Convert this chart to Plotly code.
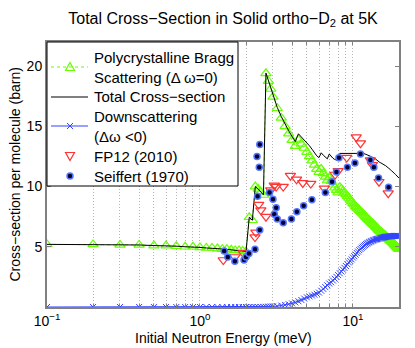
import plotly.graph_objects as go

# calculated cross-sections (meV, barn): 0.1 meV steps up to 2.9, then 0.2 meV steps
energy = [0.1, 0.2, 0.3, 0.4, 0.5, 0.6, 0.7, 0.8, 0.9, 1.0, 1.1, 1.2, 1.3, 1.4, 1.5,
          1.6, 1.7, 1.8, 1.9, 2.0, 2.1, 2.2, 2.3, 2.4, 2.5, 2.6, 2.7, 2.8, 2.9,
          3.0, 3.2, 3.4, 3.6, 3.8, 4.0, 4.2, 4.4, 4.6, 4.8, 5.0, 5.2, 5.4, 5.6, 5.8,
          6.0, 6.2, 6.4, 6.6, 6.8, 7.0, 7.2, 7.4, 7.6, 7.8, 8.0, 8.2, 8.4, 8.6, 8.8,
          9.0, 9.2, 9.4, 9.6, 9.8, 10.0, 10.2, 10.4, 10.6, 10.8, 11.0, 11.2, 11.4, 11.6, 11.8,
          12.0, 12.2, 12.4, 12.6, 12.8, 13.0, 13.2, 13.4, 13.6, 13.8, 14.0, 14.2, 14.4, 14.6, 14.8,
          15.0, 15.2, 15.4, 15.6, 15.8, 16.0, 16.2, 16.4, 16.6, 16.8, 17.0, 17.2, 17.4, 17.6, 17.8,
          18.0, 18.2, 18.4, 18.6, 18.8, 19.0, 19.2, 19.4, 19.6, 19.8, 20.0]

bragg = [5.2, 5.2, 5.15, 5.15, 5.1, 5.1, 5.05, 5.0, 5.0, 4.95, 4.9, 4.9, 4.85, 4.8, 4.8,
         4.75, 4.7, 4.7, 4.65, 4.6, 7.45, 7.2, 10.0, 9.8, 9.55, 9.3, 19.4, 18.75, 18.1,
         17.45, 16.5, 15.7, 15.0, 14.4, 13.85, 13.35, 13.9, 13.55, 13.2, 12.85, 12.5, 12.15, 11.8, 11.45,
         11.2, 11.45, 11.1, 10.8, 10.5, 10.75, 10.45, 10.15, 9.9, 9.7, 9.5, 9.95, 9.8, 9.65, 9.5,
         9.35, 9.2, 9.05, 8.9, 8.75, 8.6, 8.5, 8.35, 8.25, 8.15, 8.05, 7.95, 7.85, 7.75, 7.65,
         7.55, 7.45, 7.35, 7.25, 7.2, 7.1, 7.0, 6.95, 6.85, 6.8, 6.7, 6.6, 6.55, 6.45, 6.35,
         6.3, 6.25, 6.2, 6.1, 6.05, 6.0, 5.95, 5.9, 5.8, 5.75, 5.7, 5.65, 5.55, 5.5, 5.45,
         5.4, 5.35, 5.3, 5.2, 5.15, 5.1, 5.05, 4.95, 4.9, 4.85, 4.8]

downscatter = [0, 0, 0, 0, 0, 0, 0, 0, 0, 0, 0, 0, 0, 0, 0,
               0, 0, 0, 0, 0, 0, 0, 0, 0, 0, 0.01, 0.02, 0.03, 0.04,
               0.05, 0.07, 0.12, 0.17, 0.23, 0.3, 0.38, 0.48, 0.58, 0.7, 0.8, 0.88, 0.95, 1.02, 1.1,
               1.2, 1.35, 1.5, 1.65, 1.8, 1.95, 2.05, 2.2, 2.35, 2.5, 2.65, 2.8, 2.95, 3.1, 3.25,
               3.4, 3.55, 3.7, 3.82, 3.95, 4.1, 4.22, 4.35, 4.48, 4.6, 4.72, 4.82, 4.92, 5.0, 5.08,
               5.15, 5.22, 5.28, 5.33, 5.38, 5.42, 5.46, 5.5, 5.54, 5.57, 5.6, 5.62, 5.64, 5.66, 5.68,
               5.7, 5.72, 5.74, 5.76, 5.78, 5.8, 5.81, 5.82, 5.83, 5.84, 5.85, 5.86, 5.87, 5.87, 5.88,
               5.88, 5.89, 5.89, 5.9, 5.9, 5.9, 5.9, 5.9, 5.9, 5.9, 5.9]

# measurements
fp12_energy = [1.42, 1.69, 1.91, 2.29, 2.32, 2.42, 2.5, 2.7, 2.9, 3.06, 3.15, 3.5, 3.9, 4.28, 4.7,
               5.3, 6.5, 7.65, 8.0, 9.1, 10.5, 11.2, 13.0, 13.4, 14.8, 17.0]
fp12_sigma = [3.9, 4.15, 4.5, 5.8, 6.2, 8.5, 8.05, 7.5, 9.7, 10.1, 10.0, 10.0, 10.9, 10.6, 10.3,
              10.25, 9.85, 11.0, 11.3, 12.4, 14.1, 13.6, 12.2, 11.8, 10.4, 9.45]

seiffert_energy = [1.44, 1.52, 1.69, 1.94, 2.0, 2.09, 2.29, 2.36, 2.38, 2.44, 2.46, 2.46, 2.85, 3.0,
                   3.15, 3.06, 3.2, 3.5, 3.96, 4.3, 4.76, 5.39, 6.6, 7.3, 7.8, 8.1, 9.2, 10.3, 11.2,
                   13.0, 13.7, 14.7, 17.1]
seiffert_sigma = [4.65, 4.15, 3.8, 3.9, 4.15, 4.45, 4.8, 12.5, 9.2, 11.6, 13.5, 6.4, 9.5, 8.95,
                  8.25, 7.7, 7.3, 7.0, 7.3, 7.9, 8.4, 8.9, 9.5, 10.4, 11.2, 12.4, 11.6, 11.95, 12.7,
                  12.2, 11.6, 10.7, 9.95]

x_ticks = [0.1, 0.2, 0.3, 0.4, 0.5, 0.6, 0.7, 0.8, 0.9, 1, 2, 3, 4, 5, 6, 7, 8, 9, 10, 20]
x_labels = {0.1: '10<sup>\u22121</sup>', 1: '10<sup>0</sup>', 10: '10<sup>1</sup>'}

# legend text, one entry per line of the boxed legend
legend_lines = ['Polycrystalline Bragg', 'Scattering (\u0394 \u03c9=0)', 'Total Cross\u2212section',
                'Downscattering', '(\u0394\u03c9 <0)', 'FP12 (2010)', 'Seiffert (1970)']

FONT = 'Liberation Sans, Arial, sans-serif'
GREEN = '#66ff00'
BLUE = '#3344ff'
RED = '#ff3333'

# plot area in pixels (left, top, width, height)
L, T, W, H = 47, 42, 352, 265


def px(x):
    return (x - L) / W


def py(y):
    return (T + H - y) / H


def legend_shapes():
    shapes = [dict(type='rect', xref='paper', yref='paper', layer='above',
                   x0=px(47), x1=px(238), y0=py(186), y1=py(42),
                   fillcolor='white', line=dict(color='black', width=1))]

    def sample_line(y, color, dash='solid'):
        return dict(type='line', xref='paper', yref='paper', layer='above',
                    x0=px(51), x1=px(88), y0=py(y), y1=py(y),
                    line=dict(color=color, width=1, dash=dash))

    def marker(x, y, path, color, fill='rgba(0,0,0,0)', width=1.2):
        return dict(type='path', xref='paper', yref='paper', layer='above',
                    xsizemode='pixel', ysizemode='pixel',
                    xanchor=px(x), yanchor=py(y), path=path,
                    fillcolor=fill, line=dict(color=color, width=width))

    tri_up = 'M -4.5,-3.5 L 4.5,-3.5 L 0,4.5 Z'
    tri_down = 'M -4.5,3.5 L 4.5,3.5 L 0,-4.5 Z'
    cross = 'M -3,-3 L 3,3 M -3,3 L 3,-3'

    shapes.append(sample_line(67, GREEN, 'dot'))
    shapes.append(marker(70, 67, tri_up, GREEN))
    shapes.append(sample_line(97, 'black'))
    shapes.append(sample_line(126, BLUE))
    shapes.append(marker(70, 126, cross, BLUE, width=1))
    shapes.append(marker(70, 156, tri_down, RED))
    shapes.append(dict(type='circle', xref='paper', yref='paper', layer='above',
                       xsizemode='pixel', ysizemode='pixel',
                       xanchor=px(70), yanchor=py(176), x0=-3, x1=3, y0=-3, y1=3,
                       fillcolor='#000033', line=dict(color='#5577ff', width=1.5)))
    return shapes


def legend_annotations():
    rows = [57, 77, 97, 116, 136, 156, 176]
    notes = []
    for text, y in zip(legend_lines, rows):
        notes.append(dict(text=text, xref='paper', yref='paper', x=px(92), y=py(y),
                          xanchor='left', yanchor='middle', showarrow=False,
                          font=dict(family=FONT, size=15, color='black')))
    return notes


def build_figure():
    fig = go.Figure()

    # total = elastic (Bragg) + inelastic (downscattering)
    total = [b + d for b, d in zip(bragg, downscatter)]

    fig.add_trace(go.Scatter(x=energy, y=bragg,
                             name='Polycrystalline Bragg Scattering',
                             mode='lines+markers',
                             line=dict(color=GREEN, width=1, dash='dot'),
                             marker=dict(symbol='triangle-up-open', size=9,
                                         color=GREEN, line_width=1.2)))

    fig.add_trace(go.Scatter(x=energy, y=total,
                             name='Total Cross-section',
                             mode='lines',
                             line=dict(color='black', width=1)))

    fig.add_trace(go.Scatter(x=energy, y=downscatter,
                             name='Downscattering',
                             mode='lines+markers',
                             line=dict(color=BLUE, width=1),
                             marker=dict(symbol='x-thin', size=6,
                                         line=dict(color=BLUE, width=1))))

    fig.add_trace(go.Scatter(x=fp12_energy, y=fp12_sigma,
                             name='FP12 (2010)',
                             mode='markers',
                             marker=dict(symbol='triangle-down-open', size=9,
                                         color=RED, line_width=1.2)))

    fig.add_trace(go.Scatter(x=seiffert_energy, y=seiffert_sigma,
                             name='Seiffert (1970)',
                             mode='markers',
                             marker=dict(symbol='circle', size=6, color='#000033',
                                         line=dict(color='#5577ff', width=1.5))))

    axis_titles = [
        dict(text='Initial Neutron Energy (meV)', xref='paper', yref='paper',
             x=0.5, y=py(338), xanchor='center', yanchor='middle', showarrow=False,
             font=dict(family=FONT, size=14, color='black')),
        dict(text='Cross\u2212section per molecule (barn)', xref='paper', yref='paper',
             x=px(14), y=0.5, xanchor='center', yanchor='middle', textangle=-90,
             showarrow=False, font=dict(family=FONT, size=14, color='black')),
    ]

    fig.update_layout(
        width=415, height=348,
        margin=dict(l=L, r=415 - L - W, t=T, b=348 - T - H),
        paper_bgcolor='white', plot_bgcolor='white',
        font=dict(family=FONT, size=14, color='black'),
        title=dict(text='Total Cross\u2212Section in Solid ortho\u2212D<sub>2</sub> at 5K',
                   x=(L + W / 2) / 415, xref='container', xanchor='center',
                   y=1 - 18 / 348, yref='container', yanchor='middle',
                   font=dict(family=FONT, size=16)),
        showlegend=False,
        shapes=legend_shapes(),
        annotations=axis_titles + legend_annotations(),
    )

    fig.update_xaxes(type='log', range=[-1, 1.30103],
                     tickvals=x_ticks,
                     ticktext=[x_labels.get(v, '') for v in x_ticks],
                     tickfont=dict(family=FONT, size=14),
                     ticks='inside', ticklen=3, tickcolor='#808080',
                     showgrid=True, gridcolor='#b4b4b4', griddash='1px,2px', gridwidth=1,
                     showline=True, linecolor='#808080', linewidth=2, mirror='ticks',
                     zeroline=False, automargin=False)

    fig.update_yaxes(range=[0, 22], tickvals=[5, 10, 15, 20],
                     tickfont=dict(family=FONT, size=14),
                     ticks='inside', ticklen=4, tickcolor='#808080',
                     showgrid=False, zeroline=False, automargin=False,
                     showline=True, linecolor='#808080', linewidth=2, mirror='ticks')
    return fig


def main():
    fig = build_figure()
    # drop the browser's default page margin so the figure sits at the window corner
    fig.write_html('out.html', config={'displayModeBar': False},
                   post_script="document.body.style.margin = '0';")


if __name__ == '__main__':
    main()
